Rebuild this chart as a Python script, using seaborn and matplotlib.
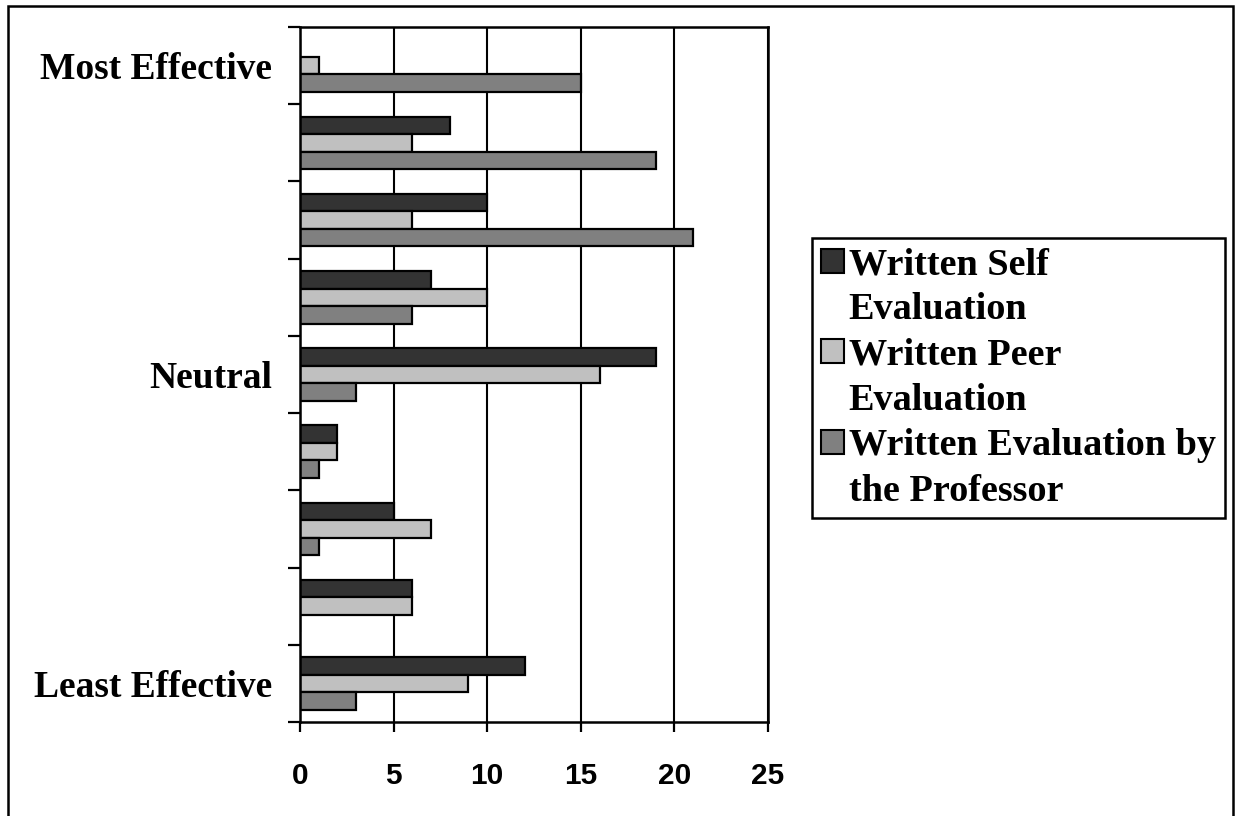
import numpy as np
import pandas as pd
import matplotlib
matplotlib.use("Agg")
import matplotlib.pyplot as plt
from matplotlib.patches import Patch, Rectangle
import seaborn as sns

# ---- data ----
levels = ["Most Effective", "L8", "L7", "L6", "Neutral", "L4", "L3", "L2", "Least Effective"]
level_labels = ["Most Effective", "", "", "", "Neutral", "", "", "", "Least Effective"]
series = ["Written Self Evaluation", "Written Peer Evaluation",
          "Written Evaluation by the Professor"]
legend_lines = [["Written Self", "Evaluation"],
                ["Written Peer", "Evaluation"],
                ["Written Evaluation by", "the Professor"]]
self_vals = [0, 8, 10, 7, 19, 2, 5, 6, 12]
peer_vals = [1, 6, 6, 10, 16, 2, 7, 6, 9]
prof_vals = [15, 19, 21, 6, 3, 1, 1, 0, 3]
x_ticks = [0, 5, 10, 15, 20, 25]
colors = ["#333333", "#C0C0C0", "#808080"]

df = pd.DataFrame({
    "level": levels * 3,
    "count": self_vals + peer_vals + prof_vals,
    "series": [series[0]] * 9 + [series[1]] * 9 + [series[2]] * 9,
})

sns.set_theme(style="white")
plt.rcParams.update({"text.color": "black", "xtick.color": "black",
                     "ytick.color": "black", "axes.labelcolor": "black"})
W, H, DPI = 1235, 816, 100
fig = plt.figure(figsize=(W / DPI, H / DPI), dpi=DPI)
ax = fig.add_axes([300 / W, 1 - 722 / H, (768 - 300) / W, (722 - 27) / H])

sns.barplot(data=df, y="level", x="count", hue="series", order=levels,
            hue_order=series, palette=colors, orient="h", width=0.68,
            edgecolor="black", linewidth=1.6, saturation=1, legend=False, ax=ax)

ax.set_xlim(0, 25)
ax.set_ylim(len(levels) - 0.5, -0.5)
ax.set_xticks(x_ticks)
ax.set_xticklabels([str(t) for t in x_ticks], fontfamily="Liberation Sans",
                   fontweight="bold", fontsize=21.5, color="black")
ax.set_yticks(range(len(levels)))
ax.set_yticklabels(level_labels, fontfamily="Liberation Serif",
                   fontweight="bold", fontsize=27, color="black")
ax.set_yticks(np.arange(-0.5, len(levels), 1), minor=True)
ax.tick_params(axis="y", which="major", length=0, pad=20)
ax.tick_params(axis="y", which="minor", length=9, width=1.6, color="black",
               direction="out", left=True)
ax.tick_params(axis="x", which="major", length=7, width=1.6, color="black",
               direction="out", bottom=True, pad=22)
ax.set_xlabel("")
ax.set_ylabel("")
ax.xaxis.grid(True, color="black", linewidth=1.5)
ax.set_axisbelow(True)
for s in ax.spines.values():
    s.set_visible(True)
    s.set_color("black")
    s.set_linewidth(1.8)

# outer frame
fig.patches.append(Rectangle((8 / W, -0.05), (1233 - 8) / W, 1.05 - 6 / H,
                             transform=fig.transFigure, fill=False,
                             edgecolor="black", linewidth=1.8))

# legend
handles, labels = [], []
for c, lines in zip(colors, legend_lines):
    handles.append(Patch(facecolor=c, edgecolor="black", linewidth=1.5))
    labels.append(lines[0])
    handles.append(Patch(facecolor="none", edgecolor="none"))
    labels.append(lines[1])
leg = fig.legend(handles, labels, loc="upper left",
                 bbox_to_anchor=(812 / W, 1 - 238 / H),
                 bbox_transform=fig.transFigure, borderaxespad=0,
                 frameon=True, fancybox=False, framealpha=1,
                 edgecolor="black", handlelength=0.6, handleheight=0.6,
                 handletextpad=0.12, labelspacing=0.27, borderpad=0.24,
                 prop={"family": "Liberation Serif", "weight": "bold", "size": 27.5})
leg.get_frame().set_linewidth(1.8)
for t in leg.get_texts():
    t.set_color("black")

fig.savefig("out.png", dpi=DPI, facecolor="white")
